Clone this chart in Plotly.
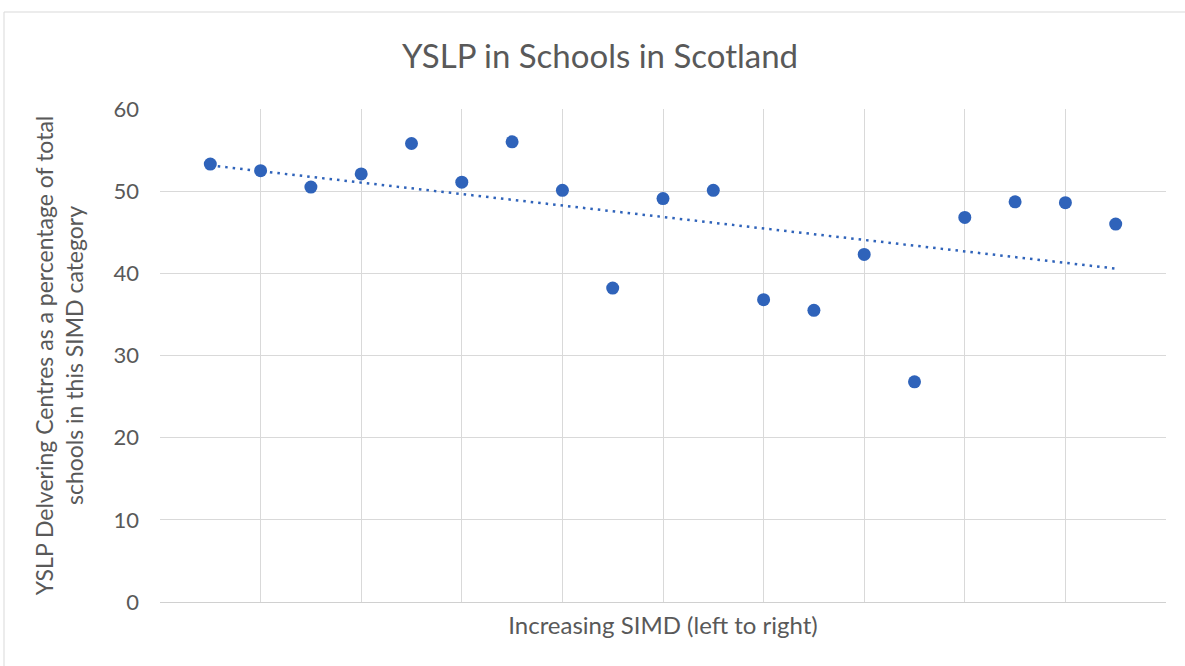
import numpy as np
import plotly.graph_objects as go

# Data
simd_position = list(range(1, 20))
percent_yslp = [53.3, 52.5, 50.5, 52.1, 55.8, 51.1, 56.0, 50.1, 38.2, 49.1,
                50.1, 36.8, 35.5, 42.3, 26.8, 46.8, 48.7, 48.6, 46.0]
y_ticks = [0, 10, 20, 30, 40, 50, 60]

title_text = "YSLP in Schools in Scotland"
x_title = "Increasing SIMD (left to right)"
y_title = "YSLP Delvering Centres as a percentage of total<br>schools in this SIMD category"

# linear trendline (least squares)
slope, intercept = np.polyfit(simd_position, percent_yslp, 1)
trend_x = [simd_position[0], simd_position[-1]]
trend_y = [slope * x + intercept for x in trend_x]

W, H = 1185, 666
L, R, T, B = 160, 1166, 109, 602

blue = "#2F63BA"
grid = "#D9D9D9"
txt = "#595959"
font_family = "Lato, 'Open Sans', sans-serif"

fig = go.Figure()
fig.add_trace(go.Scatter(x=trend_x, y=trend_y, mode="lines",
                         line=dict(color=blue, width=2.5, dash="2.5px,5px"),
                         hoverinfo="skip", showlegend=False))
fig.add_trace(go.Scatter(x=simd_position, y=percent_yslp, mode="markers",
                         marker=dict(color=blue, size=13),
                         showlegend=False))

def px_to_paper_x(px):
    return (px - L) / (R - L)

def px_to_paper_y(py):
    return (B - py) / (B - T)

# outer chart border
fig.add_shape(type="rect", xref="paper", yref="paper",
              x0=px_to_paper_x(4), x1=px_to_paper_x(1195),
              y0=px_to_paper_y(676), y1=px_to_paper_y(12),
              line=dict(color="#D9D9D9", width=1), layer="below")

fig.update_layout(
    width=W, height=H,
    margin=dict(l=L, r=W - R, t=T, b=H - B, pad=0),
    paper_bgcolor="white", plot_bgcolor="white",
    font=dict(family=font_family, color=txt),
    title=dict(text=title_text, x=(600 - L) / (R - L), xref="paper", xanchor="center",
               y=1 - 56 / H, yref="container", yanchor="middle",
               font=dict(size=33, color=txt, family=font_family)),
    showlegend=False,
)
fig.update_xaxes(range=[0, 20], tick0=0, dtick=2, showticklabels=False,
                 showgrid=True, gridcolor=grid, gridwidth=1, zeroline=False,
                 showline=True, linecolor="#D0D0D0", linewidth=1, mirror=False,
                 ticks="",
                 title=dict(text=x_title, font=dict(size=24, color=txt), standoff=15))
fig.update_yaxes(range=[0, 60], tickvals=y_ticks, showgrid=True, gridcolor=grid,
                 gridwidth=1, zeroline=False, showline=False, ticks="",
                 tickfont=dict(size=22, color=txt), ticklabelstandoff=20,
                 title=dict(text=y_title, font=dict(size=23, color=txt), standoff=23))

fig.write_html("out.html",
               config={"displayModeBar": False},
               post_script="document.body.style.margin='0';document.body.style.padding='0';")
